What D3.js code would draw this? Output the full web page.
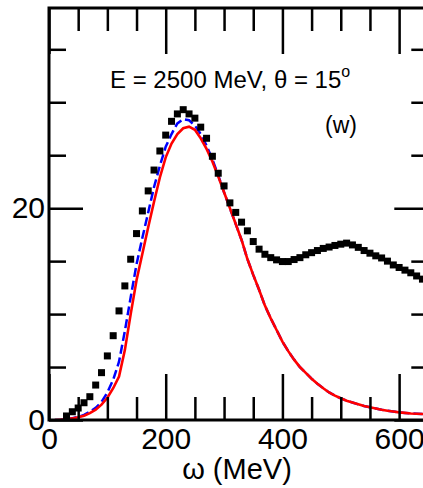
<!DOCTYPE html>
<html>
<head>
<meta charset="utf-8">
<script src="https://cdn.jsdelivr.net/npm/d3@7"></script>
<style>
  html, body { margin: 0; padding: 0; background: #fff; }
  svg { display: block; font-family: "Liberation Sans", Arial, Helvetica, sans-serif; }
</style>
</head>
<body>
<svg id="chart" width="423" height="488"></svg>
<script>
// ---- data ----
const dataOmega = [30,40,50,60,70,80,90,100,110,120,130,140,150,160,170,180,190,200,210,220,230,240,250,260,270,280,290,300,310,320,330,340,350,360,370,380,390,400,410,420,430,440,450,460,470,480,490,500,510,520,530,540,550,560,570,580,590,600,610,620,630,640];
const dataValues = [0.38,0.78,1.13,1.63,2.2,3.3,4.47,6.05,7.96,10.3,12.66,15.18,17.6,19.74,21.63,23.6,25.4,26.9,28.2,28.9,29.3,28.9,28.5,27.65,26.6,24.9,23.3,22.1,20.5,19.6,18.68,17.86,16.85,16.13,15.65,15.33,15.12,14.96,14.96,15.15,15.33,15.6,15.8,16.0,16.2,16.33,16.48,16.6,16.7,16.53,16.3,16.0,15.75,15.5,15.3,15.0,14.64,14.4,14.15,13.9,13.6,13.3];

const curveOmega = [10,20,30,40,50,60,70,80,90,100,110,120,130,140,150,160,170,180,190,200,210,220,230,240,250,260,270,280,290,300,310,320,330,340,350,360,370,380,390,400,410,420,430,440,450,460,470,480,490,500,510,520,530,540,550,560,570,580,590,600,610,620,630,640,650];
const redValues = [0,0.03,0.07,0.15,0.25,0.4,0.65,0.98,1.45,2.1,3.0,4.1,6.6,10.0,13.2,15.7,18.2,20.6,22.9,24.8,26.1,27.0,27.55,27.7,27.4,26.6,25.6,24.4,23.0,21.5,20.0,18.5,17.0,15.2,13.7,12.3,10.8,9.6,8.5,7.4,6.5,5.7,5.0,4.45,3.9,3.42,3.0,2.6,2.3,2.05,1.82,1.65,1.48,1.32,1.2,1.08,0.96,0.88,0.8,0.72,0.67,0.62,0.59,0.57,0.55];
const blueValues = [0,0.03,0.08,0.17,0.3,0.48,0.78,1.15,1.7,2.6,3.8,5.5,8.4,11.6,14.7,17.2,19.6,22.0,24.0,25.8,27.0,28.0,28.4,28.3,27.8,27.0,25.9,24.6,23.1,21.5,20.0,18.5,17.0,15.2,13.7,12.3,10.8,9.6,8.5,7.4,6.5,5.7,5.0,4.45,3.9,3.42,3.0,2.6,2.3,2.05,1.82,1.65,1.48,1.32,1.2,1.08,0.96,0.88,0.8,0.72,0.67,0.62,0.59,0.57,0.55];

const xMajorTicks = [0, 200, 400, 600];
const xMinorTicks = [50,100,150,250,300,350,450,500,550,650];
const yMajorTicks = [0, 20];
const yMinorTicks = [5,10,15,25,30,35];

const titleText = "E = 2500 MeV, \u03b8 = 15";
const titleSup = "o";
const panelLabel = "(w)";
const xAxisTitle = "\u03c9 (MeV)";

(function () {
// ---- layout ----
const svg = d3.select("#chart");
const pLeft = 49, pRight = 428.3, pTop = 8, pBottom = 420;
const x = d3.scaleLinear().domain([0, 650]).range([pLeft, pRight]);
const y = d3.scaleLinear().domain([0, 38.9]).range([pBottom, pTop]);

svg.append("defs").append("clipPath").attr("id", "plotclip")
  .append("rect").attr("x", pLeft).attr("y", pTop).attr("width", pRight - pLeft).attr("height", pBottom - pTop);

const plot = svg.append("g").attr("clip-path", "url(#plotclip)");

const line = d3.line().x((d, i) => x(curveOmega[i])).y(d => y(d));

plot.append("path").datum(blueValues)
  .attr("d", line).attr("fill", "none")
  .attr("stroke", "#0000ff").attr("stroke-width", 2.5)
  .attr("stroke-dasharray", "9,4");

plot.append("path").datum(redValues)
  .attr("d", line).attr("fill", "none")
  .attr("stroke", "#ff0000").attr("stroke-width", 2.6);

const sq = 7;
plot.selectAll("rect.pt").data(dataValues).enter().append("rect")
  .attr("class", "pt")
  .attr("x", (d, i) => x(dataOmega[i]) - sq / 2)
  .attr("y", d => y(d) - sq / 2)
  .attr("width", sq).attr("height", sq)
  .attr("fill", "#000");

// ---- axes ----
function styleAxis(g, fs) {
  g.select(".domain").remove();
  g.selectAll(".tick line").attr("stroke", "#000").attr("stroke-width", 2.5);
  g.selectAll(".tick text").attr("fill", "#000").attr("font-size", fs)
    .attr("font-family", "Liberation Sans, Arial, sans-serif");
}

// bottom
const gb = svg.append("g").attr("transform", `translate(0,${pBottom})`);
gb.call(d3.axisBottom(x).tickValues(xMajorTicks).tickSize(-46).tickPadding(8).tickFormat(d3.format("d")));
styleAxis(gb, 30);
const gbm = svg.append("g").attr("transform", `translate(0,${pBottom})`);
gbm.call(d3.axisBottom(x).tickValues(xMinorTicks).tickSize(-23).tickFormat(""));
styleAxis(gbm, 30);

// top
const gt = svg.append("g").attr("transform", `translate(0,${pTop})`);
gt.call(d3.axisTop(x).tickValues(xMajorTicks).tickSize(-46).tickFormat(""));
styleAxis(gt, 30);
const gtm = svg.append("g").attr("transform", `translate(0,${pTop})`);
gtm.call(d3.axisTop(x).tickValues(xMinorTicks).tickSize(-23).tickFormat(""));
styleAxis(gtm, 30);

// left
const gl = svg.append("g").attr("transform", `translate(${pLeft},0)`);
gl.call(d3.axisLeft(y).tickValues(yMajorTicks).tickSize(-34).tickPadding(4).tickFormat(d3.format("d")));
styleAxis(gl, 30);
const glm = svg.append("g").attr("transform", `translate(${pLeft},0)`);
glm.call(d3.axisLeft(y).tickValues(yMinorTicks).tickSize(-17).tickFormat(""));
styleAxis(glm, 30);

// right
const gr = svg.append("g").attr("transform", `translate(${pRight},0)`);
gr.call(d3.axisRight(y).tickValues(yMajorTicks).tickSize(-34).tickFormat(""));
styleAxis(gr, 30);
const grm = svg.append("g").attr("transform", `translate(${pRight},0)`);
grm.call(d3.axisRight(y).tickValues(yMinorTicks).tickSize(-17).tickFormat(""));
styleAxis(grm, 30);

// frame
svg.append("rect").attr("x", pLeft).attr("y", pTop)
  .attr("width", pRight - pLeft).attr("height", pBottom - pTop)
  .attr("fill", "none").attr("stroke", "#000").attr("stroke-width", 3);

// ---- text ----
const t = svg.append("text").attr("x", 110).attr("y", 88)
  .attr("font-size", 24).attr("fill", "#000");
t.append("tspan").text(titleText);
t.append("tspan").attr("font-size", 16).attr("dy", -11).text(titleSup);

svg.append("text").attr("x", 325).attr("y", 133)
  .attr("font-size", 23).attr("fill", "#000").text(panelLabel);

svg.append("text").attr("x", 237).attr("y", 479)
  .attr("text-anchor", "middle").attr("font-size", 29).attr("fill", "#000")
  .text(xAxisTitle);
})();
</script>
</body>
</html>
